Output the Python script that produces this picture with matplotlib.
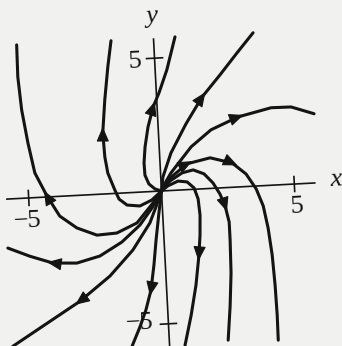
import matplotlib
matplotlib.use("Agg")
import matplotlib.pyplot as plt
from matplotlib.transforms import Affine2D
from matplotlib.patches import FancyArrowPatch

# ---- trajectories of the node at the origin (samples from the origin outward) ----
far_left_x = [0, -0.34, -0.98, -1.76, -2.51, -3.25, -3.87, -4.31, -4.72, -4.92, -5.09, -5.17, -5.15]
far_left_y = [0, -0.43, -1.15, -1.49, -1.53, -1.22, -0.74, 0.04, 0.93, 2.07, 3.32, 4.57, 5.77]

mid_left_x = [0, -0.38, -0.84, -1.32, -1.61, -1.75, -1.98, -2.06, -2.09, -1.95, -1.77, -1.60]
mid_left_y = [0, -0.32, -0.52, -0.46, -0.22, 0.13, 0.78, 1.39, 2.30, 3.53, 4.77, 5.74]

near_left_x = [0, -0.24, -0.46, -0.59, -0.60, -0.53, -0.38, -0.15, 0.10, 0.44, 0.81]
near_left_y = [0, 0.09, 0.29, 0.63, 1.09, 1.69, 2.43, 3.17, 3.69, 4.54, 5.76]

upper_x = [0, 0.08, 0.43, 1.05, 1.71, 2.43, 3.11, 3.75]
upper_y = [0, 0.52, 1.41, 2.47, 3.45, 4.25, 5.04, 5.76]

right_x = [0, 0.15, 0.39, 1.20, 1.98, 3.02, 4.28, 5.03, 5.88]
right_y = [0, 0.29, 0.66, 1.60, 2.20, 2.63, 2.91, 2.90, 2.60]

outer_drop_x = [0, 0.35, 1.01, 1.89, 2.71, 3.21, 3.56, 3.79, 3.93, 4.03, 4.08, 4.10, 4.09]
outer_drop_y = [0, 0.47, 0.97, 1.15, 0.91, 0.47, -0.11, -0.76, -1.60, -2.62, -3.76, -4.89, -5.83]

middle_drop_x = [0, 0.34, 0.81, 1.23, 1.63, 1.95, 2.19, 2.36, 2.48, 2.48, 2.45, 2.35, 2.21]
middle_drop_y = [0, 0.36, 0.64, 0.73, 0.56, 0.20, -0.23, -0.69, -1.30, -1.98, -3.22, -4.46, -5.73]

inner_drop_x = [0, 0.25, 0.64, 0.98, 1.23, 1.36, 1.40, 1.36, 1.28, 1.11, 0.87, 0.58]
inner_drop_y = [0, 0.18, 0.34, 0.29, 0.05, -0.37, -0.98, -1.73, -2.48, -3.60, -4.72, -5.84]

lower_x = [0, -0.14, -0.30, -0.43, -0.59, -0.82, -1.08, -1.41]
lower_y = [0, -0.82, -1.83, -2.77, -3.70, -4.44, -5.07, -5.77]

sweep_left_x = [0, -0.39, -0.88, -1.59, -2.44, -3.32, -4.22, -5.07, -5.88]
sweep_left_y = [0, -0.62, -1.24, -1.84, -2.32, -2.54, -2.49, -2.19, -1.84]

lower_left_x = [0, -0.24, -0.50, -1.19, -2.10, -3.28, -4.72, -5.89]
lower_left_y = [0, -0.59, -1.18, -2.16, -3.09, -3.98, -4.84, -5.54]

# (x samples, y samples, indices of the samples that carry an arrowhead)
trajectories = [
    (far_left_x, far_left_y, [7]),
    (mid_left_x, mid_left_y, [8]),
    (near_left_x, near_left_y, [7]),
    (upper_x, upper_y, [4]),
    (right_x, right_y, [5]),
    (outer_drop_x, outer_drop_y, [2, 4]),
    (middle_drop_x, middle_drop_y, [7]),
    (inner_drop_x, inner_drop_y, [8]),
    (lower_x, lower_y, [4]),
    (sweep_left_x, sweep_left_y, [6]),
    (lower_left_x, lower_left_y, [5]),
]

# ---- axes ----
x_axis_span = [-5.85, 5.80]
y_axis_span = [-6.5, 5.75]
tick_values = [-5, 5]
x_tick_labels = ["\u22125", "5"]
y_tick_labels = ["\u22125", "5"]

PAPER = "#f1f1ef"
INK = "#141414"

fig = plt.figure(figsize=(3.42, 3.46), dpi=100)
fig.patch.set_facecolor(PAPER)
ax = fig.add_axes([0, 0, 1, 1])
ax.set_facecolor(PAPER)
ax.set_xlim(-6.071, 6.786)
ax.set_ylim(-5.827, 7.180)
ax.set_axis_off()

# the printed page sits slightly turned on the scanner bed
tilt = Affine2D().rotate_deg(3) + ax.transData

ax.plot(x_axis_span, [0, 0], color=INK, lw=1.2, transform=tilt, solid_capstyle="butt")
ax.plot([0, 0], y_axis_span, color=INK, lw=1.2, transform=tilt, solid_capstyle="butt")
for t in tick_values:
    ax.plot([t, t], [-0.28, 0.28], color=INK, lw=1.2, transform=tilt)
    ax.plot([-0.3, 0.3], [t, t], color=INK, lw=1.2, transform=tilt)

serif = "Liberation Serif"
label_kw = dict(transform=tilt, rotation=3, rotation_mode="anchor", ha="center",
                va="center", family=serif, color=INK)
for t, lab in zip(tick_values, x_tick_labels):
    ax.text(t - (0.1 if t < 0 else -0.05), -0.86, lab, fontsize=19, **label_kw)
for t, lab in zip(tick_values, y_tick_labels):
    ax.text(-0.76 if t > 0 else -1.1, t - 0.08 if t > 0 else t + 0.08, lab,
            fontsize=19, **label_kw)
ax.text(6.56, 0.08, "x", fontsize=19, style="italic", **label_kw)
ax.text(-0.03, 6.55, "y", fontsize=19, style="italic", **label_kw)

for xs, ys, arrows in trajectories:
    ax.plot(xs, ys, color=INK, lw=2.2, transform=tilt,
            solid_joinstyle="round", solid_capstyle="round")
    for i in arrows:
        dx = xs[i + 1] - xs[i - 1]
        dy = ys[i + 1] - ys[i - 1]
        n = (dx * dx + dy * dy) ** 0.5
        ux, uy = dx / n * 0.22, dy / n * 0.22
        head = FancyArrowPatch((xs[i] - ux, ys[i] - uy), (xs[i] + ux, ys[i] + uy),
                               arrowstyle="-|>,head_length=0.65,head_width=0.28",
                               mutation_scale=14, color=INK, lw=0.8,
                               shrinkA=0, shrinkB=0, transform=tilt)
        ax.add_patch(head)

fig.savefig("out.png", dpi=100, facecolor=PAPER)
